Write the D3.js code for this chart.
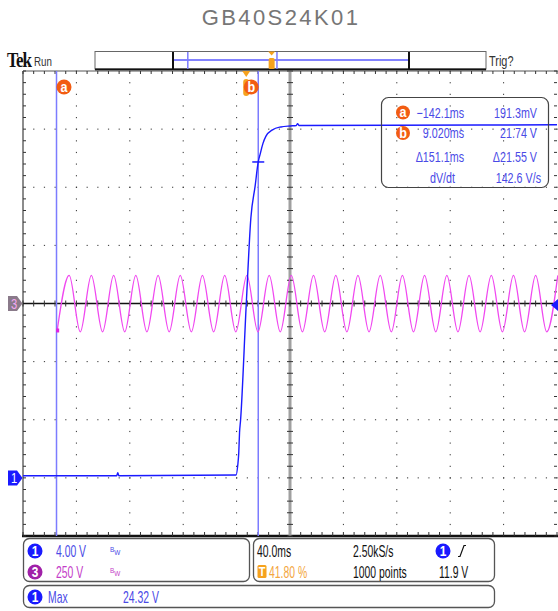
<!DOCTYPE html>
<html>
<head>
<meta charset="utf-8">
<script src="https://cdn.jsdelivr.net/npm/d3@7"></script>
<style>
html, body { margin: 0; padding: 0; background: #fff; }
svg { display: block; }
text { font-family: "Liberation Sans", Arial, sans-serif; }
</style>
</head>
<body>
<svg id="scope" width="558" height="611"></svg>
<script>
// ---------------- values ----------------
var title = "GB40S24K01";

// channel 1 (4.00 V/div) : step, time in ms / volts
var ch1Time = [-167.2, -97.0, -96.2, -95.4, -7.6, -6.3, -5.6, -5.0, -4.2, 0.0, 3.5, 6.7, 9.0, 10.5, 12.5, 14.7, 19.7, 26.0, 33.0, 37.5, 38.5, 39.5, 232.8];
var ch1Volt = [0.15, 0.15, 0.35, 0.15, 0.2, 0.9, 1.7, 3.1, 4.0, 11.9, 17.9, 20.1, 21.74, 22.3, 23.0, 23.5, 23.95, 24.15, 24.22, 24.25, 24.38, 24.25, 24.3];

// channel 3 (250 V/div) : mains sine, times of crests and troughs in ms
var ch3Start = [-141.6, -116];
var ch3PeakTime = [-132.6, -116.0, -99.3, -82.7, -66.0, -49.4, -32.8, -16.1, 0.5, 17.2, 33.8, 50.4, 67.1, 83.7, 100.4, 117.0, 133.6, 150.3, 166.9, 183.6, 200.2, 216.8, 233.4];
var ch3TroughTime = [-124.3, -107.6, -91.0, -74.4, -57.7, -41.1, -24.4, -7.8, 8.8, 25.5, 42.1, 58.8, 75.4, 92.0, 108.7, 125.3, 142.0, 158.6, 175.2, 191.9, 208.5, 225.1];
var ch3Peak = 121, ch3Trough = -122;

// cursors and readouts
var cursorNames = ["a", "b"];
var cursorTime = [-142.1, 9.020];
var readTime = ["\u2212142.1ms", "9.020ms", "\u0394151.1ms", "dV/dt"];
var readValue = ["191.3mV", "21.74 V", "\u039421.55 V", "142.6 V/s"];

// settings
var timePerDiv = 40;          // ms
var triggerPct = 41.80;       // %
var ch1PerDiv = 4, ch1Offset = -3;    // V/div, ground divisions from centre
var ch3PerDiv = 250, ch3Offset = 0;
var trigLevel = 11.9;
var chanLabels = ["4.00 V", "250 V"];
var timeLabels = ["40.0ms", "2.50kS/s", "1000 points", "11.9 V"];
var measLabel = ["Max", "24.32 V"];

// ---------------- layout ----------------
var svg = d3.select("#scope");
var G = { left: 23, right: 557, top: 71, bottom: 536 };

var tMin = -triggerPct / 100 * 10 * timePerDiv;
var x = d3.scaleLinear().domain([tMin, tMin + 10 * timePerDiv]).range([G.left, G.right]);
var xDiv = d3.scaleLinear().domain([0, 10]).range([G.left, G.right]);
var yDiv = d3.scaleLinear().domain([0, 8]).range([G.top, G.bottom]);
var y1 = d3.scaleLinear().domain([(-4 - ch1Offset) * ch1PerDiv, (4 - ch1Offset) * ch1PerDiv]).range([G.bottom, G.top]);
var y3 = d3.scaleLinear().domain([(-4 - ch3Offset) * ch3PerDiv, (4 - ch3Offset) * ch3PerDiv]).range([G.bottom, G.top]);

var BLUE = "#1a1aff", CURS = "#7c7cff", MAG = "#f048f0", ORANGE = "#f25c12", TRIG = "#f6a21e", TXT = "#4a4ae6";

// condensed scope text (squeezed horizontally like the Tek font)
function stext(xx, yy, str, size, fill, anchor, sx, weight) {
  return svg.append("text")
    .attr("transform", "translate(" + xx + "," + yy + ") scale(" + (sx || 1) + ",1)")
    .attr("text-anchor", anchor || "start")
    .style("font-size", size + "px").style("font-weight", weight || "normal")
    .attr("fill", fill).text(str);
}

// title
svg.append("text").attr("x", 281).attr("y", 25).attr("text-anchor", "middle")
  .style("font-size", "22px").style("letter-spacing", "2.4px").attr("fill", "#767676").text(title);

// Tek Run
stext(7, 67, "Tek", 20, "#111", "start", 0.85, "bold").style("font-family", "'Liberation Serif', serif").style("letter-spacing", "-1px");
stext(34, 66, "Run", 13, "#333", "start", 0.75);
stext(489, 66, "Trig?", 14, "#333", "start", 0.78);

// record bar
var recX = d3.scaleLinear().domain(x.domain()).range([173, 409]);
svg.append("rect").attr("x", 95).attr("y", 51.5).attr("width", 391).attr("height", 17.5)
  .attr("fill", "#fff").attr("stroke", "#666").attr("stroke-width", 1);
svg.append("line").attr("x1", 95).attr("x2", 486).attr("y1", 69.5).attr("y2", 69.5).attr("stroke", "#111").attr("stroke-width", 2);
svg.append("line").attr("x1", recX.range()[0]).attr("x2", recX.range()[1]).attr("y1", 60).attr("y2", 60).attr("stroke", "#5a5aff").attr("stroke-width", 1.5);
recX.range().forEach(function(v) {
  svg.append("line").attr("x1", v).attr("x2", v).attr("y1", 52).attr("y2", 69).attr("stroke", "#111").attr("stroke-width", 2);
});
cursorTime.forEach(function(t) {
  svg.append("line").attr("x1", recX(t)).attr("x2", recX(t)).attr("y1", 52).attr("y2", 69).attr("stroke", CURS).attr("stroke-width", 1.5);
});
svg.append("rect").attr("x", recX(0) - 3).attr("y", 58).attr("width", 6).attr("height", 11).attr("rx", 1.5).attr("fill", TRIG);
svg.append("path").attr("d", "M" + (recX(0) - 3.5) + ",51.5h7l-3.5,4z").attr("fill", TRIG);

// ---------------- graticule ----------------
var grid = svg.append("g");
var minorX = d3.range(0, 50.01, 1).map(function(i) { return xDiv(i / 5); });
var minorY = d3.range(0, 40.01, 1).map(function(i) { return yDiv(i / 5); });

// dotted divisions
[1, 2, 3, 4, 6, 7, 8, 9].forEach(function(i) {
  grid.selectAll(null).data(minorY).enter().append("rect")
    .attr("x", xDiv(i) - 0.5).attr("y", function(d) { return d - 0.5; })
    .attr("width", 1).attr("height", 1.2).attr("fill", "#333");
});
[1, 2, 3, 5, 6, 7].forEach(function(j) {
  grid.selectAll(null).data(minorX).enter().append("rect")
    .attr("x", function(d) { return d - 0.5; }).attr("y", yDiv(j) - 0.5)
    .attr("width", 1.2).attr("height", 1).attr("fill", "#333");
});

// frame
grid.append("line").attr("x1", G.left).attr("x2", G.right + 1).attr("y1", G.top).attr("y2", G.top).attr("stroke", "#555").attr("stroke-width", 1);
grid.append("line").attr("x1", G.left).attr("x2", G.left).attr("y1", G.top).attr("y2", G.bottom).attr("stroke", "#8c8c8c").attr("stroke-width", 2);
grid.append("line").attr("x1", G.left - 1).attr("x2", 558).attr("y1", G.bottom).attr("y2", G.bottom).attr("stroke", "#111").attr("stroke-width", 2.5);

// edge ticks
grid.selectAll(null).data(minorX).enter().append("line")
  .attr("x1", function(d) { return d; }).attr("x2", function(d) { return d; })
  .attr("y1", G.top).attr("y2", G.top + 3).attr("stroke", "#333").attr("stroke-width", 1);
grid.selectAll(null).data(minorX).enter().append("line")
  .attr("x1", function(d) { return d; }).attr("x2", function(d) { return d; })
  .attr("y1", G.bottom - 4).attr("y2", G.bottom).attr("stroke", "#333").attr("stroke-width", 1);
grid.selectAll(null).data(minorY).enter().append("line")
  .attr("x1", G.left).attr("x2", G.left + 3).attr("y1", function(d) { return d; }).attr("y2", function(d) { return d; })
  .attr("stroke", "#333").attr("stroke-width", 1);
grid.selectAll(null).data(minorY).enter().append("line")
  .attr("x1", G.right - 3).attr("x2", G.right).attr("y1", function(d) { return d; }).attr("y2", function(d) { return d; })
  .attr("stroke", "#333").attr("stroke-width", 1);

// centre cross
grid.append("line").attr("x1", xDiv(5)).attr("x2", xDiv(5)).attr("y1", G.top).attr("y2", G.bottom).attr("stroke", "#a0a0a0").attr("stroke-width", 3);
grid.selectAll(null).data(minorY).enter().append("line")
  .attr("x1", xDiv(5) - 3).attr("x2", xDiv(5) + 3).attr("y1", function(d) { return d; }).attr("y2", function(d) { return d; })
  .attr("stroke", "#333").attr("stroke-width", 1);
grid.append("line").attr("x1", G.left).attr("x2", G.right + 1).attr("y1", yDiv(4)).attr("y2", yDiv(4)).attr("stroke", "#111").attr("stroke-width", 1.6);
grid.selectAll(null).data(minorX).enter().append("line")
  .attr("x1", function(d) { return d; }).attr("x2", function(d) { return d; })
  .attr("y1", yDiv(4) - 3).attr("y2", yDiv(4) + 3).attr("stroke", "#333").attr("stroke-width", 1);

// ---------------- cursors ----------------
cursorTime.forEach(function(t) {
  svg.append("line").attr("x1", x(t)).attr("x2", x(t)).attr("y1", G.top).attr("y2", G.bottom)
    .attr("stroke", CURS).attr("stroke-width", 1.5);
});

// ---------------- traces ----------------
svg.append("defs").append("clipPath").attr("id", "clipG").append("rect")
  .attr("x", G.left).attr("y", G.top).attr("width", G.right - G.left + 1).attr("height", G.bottom - G.top);

var ch3Pts = [ch3Start]
  .concat(ch3PeakTime.map(function(t) { return [t, ch3Peak]; }))
  .concat(ch3TroughTime.map(function(t) { return [t, ch3Trough]; }))
  .sort(function(a, b) { return a[0] - b[0]; });
var line3 = d3.line().x(function(d) { return x(d[0]); }).y(function(d) { return y3(d[1]); }).curve(d3.curveMonotoneX);
svg.append("path").attr("clip-path", "url(#clipG)").attr("d", line3(ch3Pts))
  .attr("fill", "none").attr("stroke", MAG).attr("stroke-width", 1.3);
svg.append("rect").attr("x", x(ch3Start[0]) - 1).attr("y", y3(ch3Start[1]) - 2).attr("width", 3).attr("height", 4).attr("fill", "#e020e0");

var ch1Pts = ch1Time.map(function(t, i) { return [t, ch1Volt[i]]; });
var line1 = d3.line().x(function(d) { return x(d[0]); }).y(function(d) { return y1(d[1]); }).curve(d3.curveMonotoneX);
svg.append("path").attr("clip-path", "url(#clipG)").attr("d", line1(ch1Pts))
  .attr("fill", "none").attr("stroke", BLUE).attr("stroke-width", 1.4);

// cursor b crossing mark
svg.append("line").attr("x1", x(cursorTime[1]) - 6).attr("x2", x(cursorTime[1]) + 6)
  .attr("y1", y1(21.74)).attr("y2", y1(21.74)).attr("stroke", BLUE).attr("stroke-width", 1.5);

// ---------------- markers ----------------
function chanFlag(yy, fill, txtFill, lab) {
  svg.append("path").attr("d", "M8," + (yy - 7.5) + "H17L22.5," + yy + "L17," + (yy + 7.5) + "H8Z").attr("fill", fill);
  stext(14, yy + 5, lab, 14, txtFill, "middle", 0.8);
}
chanFlag(y3(0), "#8a7a8a", "#f4a8f4", "3");
chanFlag(y1(0), BLUE, "#fff", "1");

// trigger level arrow
svg.append("path").attr("d", "M551," + y1(trigLevel) + "l7,-6v12z").attr("fill", BLUE);

// trigger position marker
svg.append("path").attr("d", "M" + (x(0) - 4) + "," + G.top + "h8l-4,6z").attr("fill", TRIG);
svg.append("rect").attr("x", x(0) - 3).attr("y", 79).attr("width", 6).attr("height", 17).attr("rx", 3).attr("fill", TRIG);

// cursor labels
var labX = [x(cursorTime[0]) + 7.5, x(cursorTime[1]) - 7];
cursorNames.forEach(function(n, i) {
  svg.append("circle").attr("cx", labX[i]).attr("cy", 87).attr("r", 7.5).attr("fill", ORANGE);
  stext(labX[i], 91.8, n, 14, "#fff", "middle", 0.9, "bold");
});

// ---------------- cursor readout ----------------
svg.append("rect").attr("x", 381.5).attr("y", 97.5).attr("width", 167).attr("height", 90).attr("rx", 7)
  .attr("fill", "none").attr("stroke", "#444").attr("stroke-width", 1.2);
var rowY = [112.5, 133, 156.5, 178];
rowY.forEach(function(ry, i) {
  if (i < 2) {
    svg.append("circle").attr("cx", 403).attr("cy", ry).attr("r", 7).attr("fill", ORANGE);
    stext(403, ry + 4.8, cursorNames[i], 14, "#fff", "middle", 0.9, "bold");
  }
  stext(i < 3 ? 464 : 455, ry + 5, readTime[i], 14.5, TXT, "end", 0.74);
  stext(i < 3 ? 537 : 541, ry + 5, readValue[i], 14.5, TXT, "end", 0.74);
});

// ---------------- bottom panels ----------------
function panel(x0, y0, w, h) {
  svg.append("rect").attr("x", x0).attr("y", y0).attr("width", w).attr("height", h).attr("rx", 6)
    .attr("fill", "#fff").attr("stroke", "#555").attr("stroke-width", 1.3);
}
panel(23.5, 538.5, 226, 43);
panel(253.5, 538.5, 241, 43);
panel(23.5, 585.5, 471, 22);

function badge(cx, cy, fill, lab) {
  svg.append("circle").attr("cx", cx).attr("cy", cy).attr("r", 7.5).attr("fill", fill);
  stext(cx, cy + 5.2, lab, 14, "#fff", "middle", 0.85, "bold");
}
function label(xx, yy, txt, fill, anchor) {
  return stext(xx, yy, txt, 16, fill, anchor, 0.65);
}
function bw(xx, yy, fill) {
  var t = stext(xx, yy, "", 8, fill, "start", 0.8);
  t.append("tspan").text("B");
  t.append("tspan").attr("dy", 3).text("W");
}

badge(35, 551, BLUE, "1");
label(56, 557, chanLabels[0], TXT);
bw(110, 552, TXT);
badge(35, 572, "#a020a8", "3");
label(56, 578, chanLabels[1], "#c43cc8");
bw(110, 573, "#c43cc8");

label(257, 557, timeLabels[0], "#111");
label(353, 557, timeLabels[1], "#111");
badge(443, 551, BLUE, "1");
svg.append("path").attr("d", "M458,556.5h2l4,-11h2").attr("fill", "none").attr("stroke", "#111").attr("stroke-width", 1.2);
svg.append("rect").attr("x", 257.5).attr("y", 565).attr("width", 9).attr("height", 13).attr("rx", 1.5).attr("fill", TRIG);
stext(262, 576, "T", 12, "#fff", "middle", 0.9, "bold");
label(269, 578, triggerPct.toFixed(2) + " %", "#f3a640");
label(353, 578, timeLabels[2], "#111");
label(439, 578, timeLabels[3], "#111");

badge(35, 597, BLUE, "1");
label(48, 603, measLabel[0], TXT);
label(123, 603, measLabel[1], TXT);
</script>
</body>
</html>
